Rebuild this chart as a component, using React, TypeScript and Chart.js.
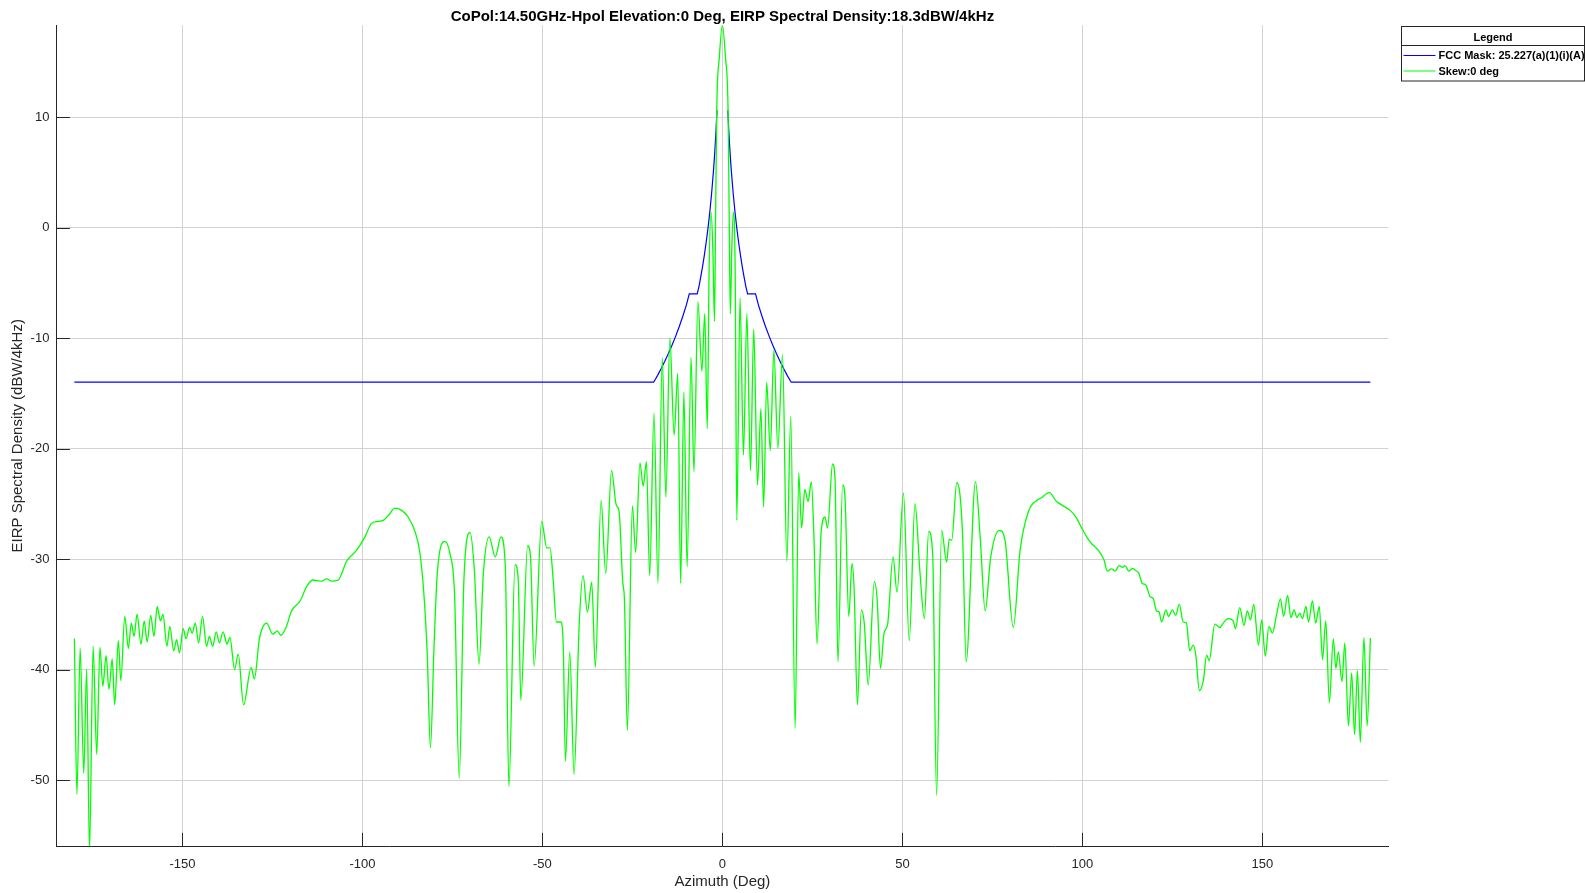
import { useEffect, useRef } from "react";
import { Chart, registerables } from "chart.js";

Chart.register(...registerables);

const chartTitle = "CoPol:14.50GHz-Hpol Elevation:0 Deg, EIRP Spectral Density:18.3dBW/4kHz";
const xAxisTitle = "Azimuth (Deg)";
const yAxisTitle = "EIRP Spectral Density (dBW/4kHz)";
const legendTitle = "Legend";
const maskLabel = "FCC Mask: 25.227(a)(1)(i)(A)";
const skewLabel = "Skew:0 deg";

const xTicks = [-150, -100, -50, 0, 50, 100, 150];
const yTicks = [-50, -40, -30, -20, -10, 0, 10];
const xRange = [-185, 185];
const yRange = [-56, 18.3];

// FCC mask [azimuth, EIRP]
const maskLeft: [number, number][] = [
  [-180, -14], [-19.1, -14], [-18, -13.38], [-17, -12.76], [-16, -12.1], [-15, -11.4],
  [-14, -10.65], [-13, -9.85], [-12, -8.98], [-11, -8.03], [-10, -7], [-9.2, -6],
  [-7, -6], [-6.5, -5.32], [-6, -4.45], [-5.5, -3.51], [-5, -2.47], [-4.5, -1.33],
  [-4, -0.05], [-3.5, 1.4], [-3, 3.07], [-2.5, 5.05], [-2.25, 6.19], [-2, 7.47],
  [-1.75, 8.92], [-1.5, 10.6],
];
const maskRight: [number, number][] = [
  [1.5, 10.6], [1.75, 8.92], [2, 7.47], [2.25, 6.19], [2.5, 5.05], [3, 3.07],
  [3.5, 1.4], [4, -0.05], [4.5, -1.33], [5, -2.47], [5.5, -3.51], [6, -4.45],
  [6.5, -5.32], [7, -6], [9.2, -6], [10, -7], [11, -8.03], [12, -8.98], [13, -9.85],
  [14, -10.65], [15, -11.4], [16, -12.1], [17, -12.76], [18, -13.38], [19.1, -14],
  [180, -14],
];

// Skew 0 deg pattern [azimuth, EIRP]
const skewLeftFar: [number, number][] = [
  [-180.0, -37.2], [-179.3, -51.3], [-178.4, -38.1], [-177.4, -49.4], [-176.6, -40.0],
  [-175.8, -56.5], [-174.8, -37.9], [-173.8, -47.7], [-172.9, -38.0], [-172.1, -41.5],
  [-171.2, -38.75], [-170.4, -41.8], [-169.5, -39.05], [-168.8, -43.2], [-167.8, -37.4],
  [-167.1, -41.0], [-166.0, -35.2], [-165.0, -38.1], [-164.2, -35.8], [-163.4, -37.0],
  [-162.6, -35.0], [-161.5, -37.7], [-160.6, -35.6], [-159.8, -37.5], [-158.8, -35.1],
  [-157.9, -37.0], [-157.0, -34.3], [-156.1, -35.6], [-155.4, -35.0], [-154.3, -37.9],
  [-153.5, -36.1], [-152.4, -38.3], [-151.6, -37.3], [-150.8, -38.5], [-149.8, -36.3],
  [-149.0, -37.2], [-148.0, -36.2], [-147.3, -36.7], [-146.4, -35.8], [-145.5, -37.6],
  [-144.4, -35.2], [-143.3, -37.9], [-142.5, -37.0], [-141.6, -37.9], [-140.6, -36.6],
  [-139.7, -37.6], [-138.7, -36.6], [-137.6, -37.7], [-136.8, -37.1], [-135.5, -40.0],
  [-134.5, -38.6], [-133.0, -43.2], [-130.9, -39.8], [-130.0, -40.85], [-128.6, -37.2],
  [-126.6, -35.8], [-124.9, -36.8], [-123.6, -36.5], [-122.7, -36.9], [-121.1, -36.1],
  [-119.7, -34.7], [-117.3, -33.8], [-115.5, -32.5], [-113.8, -31.9], [-111.3, -32.0],
  [-109.9, -31.8], [-108.6, -32.0], [-106.7, -31.9], [-104.4, -30.2], [-101.6, -29.2],
  [-99.3, -28.0], [-97.5, -26.8], [-95.6, -26.6], [-94.2, -26.5], [-92.6, -26.0],
  [-91.0, -25.4], [-89.1, -25.6], [-87.3, -26.2], [-85.4, -27.5], [-84.1, -29.3],
  [-83.0, -32.8], [-82.0, -38.5], [-81.1, -47.1], [-80.1, -37.9], [-79.2, -31.3],
  [-77.1, -28.4], [-75.7, -29.5], [-74.4, -33.2], [-73.1, -49.85], [-71.8, -31.9],
  [-70.1, -27.6], [-68.9, -31.0], [-67.6, -39.5], [-66.4, -31.3], [-64.8, -28.0],
  [-63.1, -29.8], [-61.5, -28.0], [-60.3, -30.7], [-59.3, -50.6], [-57.6, -30.5],
  [-56.7, -31.9], [-56.0, -42.8], [-54.1, -28.8], [-53.3, -29.8], [-52.3, -39.7],
  [-50.2, -26.6], [-48.8, -29.0], [-47.9, -29.0], [-47.0, -31.9], [-46.1, -35.7],
  [-44.9, -35.7], [-44.2, -37.9], [-43.6, -48.3], [-42.4, -38.4], [-41.2, -49.5],
  [-39.8, -36.1], [-38.7, -31.5], [-37.5, -34.8], [-36.3, -32.1], [-35.3, -39.8],
];
const skewLeftNear: [number, number][] = [
  [-33.7, -24.7], [-32.4, -31.3], [-30.8, -22.0], [-29.5, -25.1], [-28.7, -25.7],
  [-27.7, -32.0], [-27.2, -33.8], [-26.4, -45.5], [-25.0, -25.2], [-24.1, -29.4],
  [-22.9, -21.3], [-22.0, -23.4], [-21.1, -21.2], [-20.2, -31.5], [-19.0, -16.8],
  [-17.9, -32.2], [-16.7, -11.8], [-15.7, -24.4], [-14.6, -10.0], [-13.4, -18.8],
  [-12.4, -13.2], [-11.6, -32.2], [-10.7, -14.9], [-9.8, -30.7], [-8.7, -11.75],
  [-7.9, -22.1], [-6.8, -6.7], [-5.7, -13.0], [-4.9, -7.8], [-4.2, -18.2],
  [-3.7, -4.0], [-3.15, 1.4], [-2.65, -2.0], [-2.2, -8.5],
];
const skewMainLobe: [number, number][] = [
  [-1.9, 0.5], [-1.58, 10.5], [-0.85, 15.4], [0, 18.3], [0.85, 15.4], [1.58, 10.5], [1.9, 0.5],
];
const skewRightNear: [number, number][] = [
  [2.2, -7.8], [2.6, -2.0], [3.05, 1.4], [3.55, -4.0], [4.0, -26.5], [4.9, -6.4],
  [5.85, -20.6], [6.8, -7.8], [7.8, -22.0], [8.7, -9.2], [9.75, -23.3], [10.7, -16.4],
  [11.45, -25.3], [12.3, -14.0], [13.3, -20.2], [14.3, -11.1], [15.4, -20.0], [16.7, -11.5],
  [17.9, -30.2], [19.0, -17.1], [20.2, -45.3], [21.2, -22.2], [22.0, -27.2], [22.9, -23.7],
  [23.8, -24.8], [24.7, -23.0], [25.4, -27.7], [26.3, -37.7], [27.4, -27.7], [28.5, -26.2],
  [29.2, -27.2], [30.6, -21.4], [31.3, -22.85], [32.1, -39.3], [33.4, -23.3], [34.1, -24.7],
  [35.1, -35.2], [36.0, -30.4], [36.6, -32.8], [37.5, -43.2], [38.6, -34.6], [39.4, -35.8],
  [40.5, -41.4], [42.2, -32.05], [43.0, -33.7], [43.9, -39.9], [44.9, -36.7], [45.9, -35.9],
  [47.4, -29.8], [48.5, -33.0],
];
const skewRightFar: [number, number][] = [
  [50.3, -24.05], [51.9, -37.4], [53.5, -25.0], [54.9, -31.3], [56.1, -35.4], [57.3, -27.5],
  [58.4, -29.5], [59.5, -51.4], [60.9, -27.4], [62.3, -30.3], [63.0, -28.2], [63.7, -28.3],
  [65.1, -23.1], [66.7, -27.7], [67.7, -39.3], [70.3, -23.0], [71.6, -28.0], [73.0, -34.7],
  [74.5, -29.9], [76.9, -27.4], [78.5, -28.3], [80.8, -36.2], [82.7, -29.2], [85.0, -25.7],
  [87.3, -24.7], [88.4, -24.5], [90.8, -24.0], [92.8, -24.8], [94.2, -25.1], [96.6, -25.6],
  [98.4, -26.3], [99.8, -27.2], [101.2, -28.0], [102.5, -28.6], [103.5, -28.9], [104.4, -29.2],
  [106.0, -30.1], [106.9, -31.1], [108.1, -30.9], [109.1, -31.1], [110.2, -30.6], [111.2, -30.75],
  [111.8, -30.6], [112.9, -31.1], [113.9, -30.85], [114.6, -31.0], [115.7, -31.3], [116.6, -32.2],
  [117.6, -32.35], [118.8, -33.4], [119.7, -33.6], [120.6, -34.7], [121.3, -34.8], [122.0, -35.7],
  [123.2, -34.6], [123.9, -35.2], [125.0, -34.6], [125.9, -35.1], [126.9, -34.1], [128.0, -35.7],
  [128.9, -35.8], [129.8, -38.3], [130.8, -37.8], [131.5, -38.7], [132.5, -41.9], [133.6, -41.0],
  [134.5, -38.7], [135.2, -39.2], [136.8, -35.9], [138.2, -36.2], [139.1, -35.8], [140.5, -35.4],
  [141.9, -35.6], [142.5, -36.3], [143.7, -34.4], [144.9, -36.0], [145.8, -34.7], [146.7, -35.5],
  [147.6, -34.1], [148.9, -37.8], [149.8, -35.5], [150.8, -38.8], [151.8, -36.1], [152.8, -36.7],
  [153.9, -35.1], [155.0, -33.6], [155.9, -35.2], [157.0, -33.3], [157.9, -35.3], [158.8, -34.6],
  [159.6, -35.3], [160.4, -34.9], [161.1, -35.4], [162.1, -34.3], [162.8, -35.7], [163.9, -33.8],
  [164.8, -35.8], [165.8, -34.3], [166.7, -39.1], [167.6, -35.6], [168.6, -43.0], [169.7, -37.2],
  [170.4, -39.9], [171.1, -38.4], [172.1, -41.1], [172.9, -37.6], [173.9, -45.1], [174.8, -40.3],
  [175.6, -45.9], [176.4, -40.1], [177.2, -46.6], [178.2, -37.1], [179.1, -45.1], [180.0, -37.15],
];

const AXIS_COLOR = "#262626";
const GRID_COLOR = "#d2d2d2";
const MASK_COLOR = "#0000ff";
const SKEW_COLOR = "#00ff00";
const FONT = '"Liberation Sans", Arial, Helvetica, sans-serif';

const toXY = (pts: [number, number][]) => pts.map(([x, y]) => ({ x, y }));

const decorPlugin = {
  id: "matlabDecor",
  beforeDatasetsDraw(chart: any) {
    const { ctx, chartArea, scales } = chart;
    const len = 13.5;
    ctx.save();
    ctx.strokeStyle = AXIS_COLOR;
    ctx.lineWidth = 1;
    ctx.beginPath();
    xTicks.forEach((v) => {
      const px = Math.round(scales.x.getPixelForValue(v)) + 0.5;
      ctx.moveTo(px, chartArea.bottom);
      ctx.lineTo(px, chartArea.bottom - len);
    });
    yTicks.forEach((v) => {
      const py = Math.round(scales.y.getPixelForValue(v)) + 0.5;
      ctx.moveTo(chartArea.left, py);
      ctx.lineTo(chartArea.left + len, py);
    });
    ctx.stroke();
    ctx.restore();
  },
  afterDraw(chart: any) {
    const { ctx, chartArea } = chart;
    ctx.save();
    // title
    ctx.fillStyle = "#000";
    ctx.font = `bold 15px ${FONT}`;
    ctx.textAlign = "center";
    ctx.textBaseline = "middle";
    ctx.fillText(chartTitle, (chartArea.left + chartArea.right) / 2, 16.5);

    // legend box
    const bx = 1401.5, by = 26.5, bw = 183, bh = 54.5;
    ctx.fillStyle = "#fff";
    ctx.fillRect(bx, by, bw, bh);
    ctx.strokeStyle = AXIS_COLOR;
    ctx.lineWidth = 1;
    ctx.strokeRect(bx, by, bw, bh);
    ctx.beginPath();
    ctx.moveTo(bx, by + 19);
    ctx.lineTo(bx + bw, by + 19);
    ctx.stroke();

    ctx.fillStyle = "#000";
    ctx.font = `bold 11px ${FONT}`;
    ctx.textAlign = "center";
    ctx.fillText(legendTitle, bx + bw / 2, 37.5);

    const entries = [
      { label: maskLabel, color: MASK_COLOR, y: 55.5 },
      { label: skewLabel, color: SKEW_COLOR, y: 71 },
    ];
    ctx.textAlign = "left";
    entries.forEach((e) => {
      ctx.strokeStyle = e.color;
      ctx.lineWidth = 1;
      ctx.beginPath();
      ctx.moveTo(1403.5, e.y);
      ctx.lineTo(1435.5, e.y);
      ctx.stroke();
      ctx.fillStyle = "#000";
      ctx.fillText(e.label, 1438.5, e.y + 0.5);
    });
    ctx.restore();
  },
};

export default function App() {
  const canvasRef = useRef<HTMLCanvasElement>(null);

  useEffect(() => {
    document.body.style.margin = "0";
    const canvas = canvasRef.current;
    if (!canvas) return;
    Chart.defaults.font.family = FONT;

    const skewData = toXY([
      ...skewLeftFar,
      ...skewLeftNear,
      ...skewMainLobe,
      ...skewRightNear,
      ...skewRightFar,
    ]);
    const maskData = [...toXY(maskLeft), { x: 0, y: null as any }, ...toXY(maskRight)];

    const chart = new Chart(canvas, {
      type: "line",
      data: {
        datasets: [
          {
            label: skewLabel,
            data: skewData,
            borderColor: SKEW_COLOR,
            borderWidth: 1.3,
            pointRadius: 0,
            fill: false,
            cubicInterpolationMode: "monotone",
            order: 0,
          },
          {
            label: maskLabel,
            data: maskData,
            borderColor: MASK_COLOR,
            borderWidth: 1.2,
            pointRadius: 0,
            fill: false,
            tension: 0,
            spanGaps: false,
            order: 1,
          },
        ],
      },
      options: {
        responsive: false,
        animation: false,
        parsing: false,
        normalized: true,
        layout: { padding: { left: 0, right: 196.6, top: 25.3, bottom: 0 } },
        plugins: {
          legend: { display: false },
          title: { display: false },
          tooltip: { enabled: false },
        },
        scales: {
          x: {
            type: "linear",
            position: "bottom",
            min: xRange[0],
            max: xRange[1],
            afterBuildTicks: (s: any) => {
              s.ticks = xTicks.map((v) => ({ value: v }));
            },
            afterFit: (s: any) => {
              s.height = 46.7;
            },
            grid: { color: GRID_COLOR, lineWidth: 1, drawTicks: false },
            border: { display: true, color: AXIS_COLOR, width: 1 },
            ticks: {
              color: AXIS_COLOR,
              font: { size: 13 },
              padding: 10,
              autoSkip: false,
              maxRotation: 0,
              callback: (v: any) => String(v),
            },
            title: {
              display: true,
              text: xAxisTitle,
              color: AXIS_COLOR,
              font: { size: 15 },
              padding: { top: 0, bottom: 2.3 },
            },
          },
          y: {
            type: "linear",
            position: "left",
            min: yRange[0],
            max: yRange[1],
            afterBuildTicks: (s: any) => {
              s.ticks = yTicks.map((v) => ({ value: v }));
            },
            afterFit: (s: any) => {
              s.width = 56.4;
            },
            grid: { color: GRID_COLOR, lineWidth: 1, drawTicks: false },
            border: { display: true, color: AXIS_COLOR, width: 1 },
            ticks: {
              color: AXIS_COLOR,
              font: { size: 13 },
              padding: 7,
              autoSkip: false,
              callback: (v: any) => String(v),
            },
            title: {
              display: true,
              text: yAxisTitle,
              color: AXIS_COLOR,
              font: { size: 15 },
              padding: { top: 9, bottom: 0 },
            },
          },
        },
      },
      plugins: [decorPlugin],
    } as any);

    return () => chart.destroy();
  }, []);

  return (
    <div style={{ width: 1585, height: 893, position: "relative", background: "#fff" }}>
      <canvas
        ref={canvasRef}
        width={1585}
        height={893}
        style={{ display: "block", width: 1585, height: 893 }}
      />
    </div>
  );
}
